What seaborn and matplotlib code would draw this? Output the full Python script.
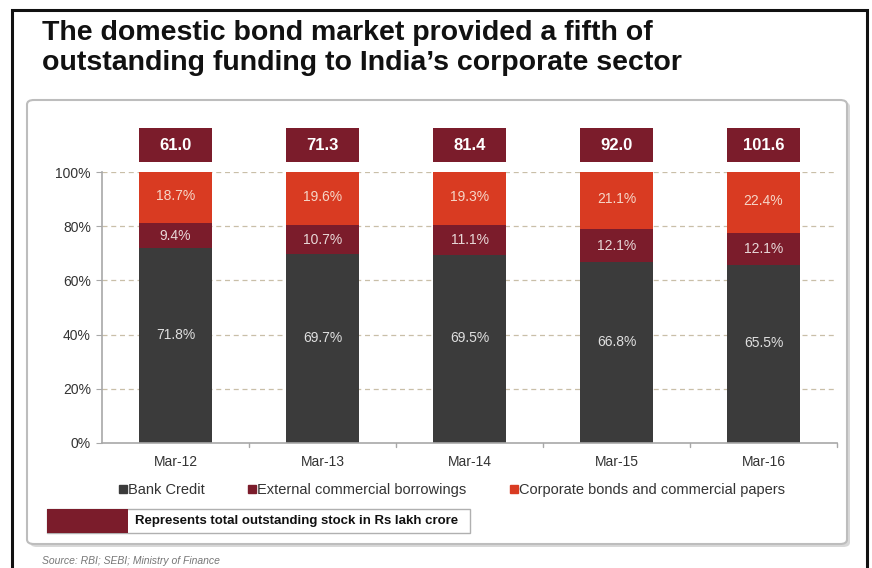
import matplotlib
matplotlib.use("Agg")
import matplotlib.pyplot as plt
import seaborn as sns
import numpy as np
from matplotlib.patches import Rectangle, FancyBboxPatch
from matplotlib.lines import Line2D

periods = ["Mar-12", "Mar-13", "Mar-14", "Mar-15", "Mar-16"]
bank_credit = [71.8, 69.7, 69.5, 66.8, 65.5]
ecb = [9.4, 10.7, 11.1, 12.1, 12.1]
corp_bonds = [18.7, 19.6, 19.3, 21.1, 22.4]
totals = [61.0, 71.3, 81.4, 92.0, 101.6]
y_ticks = [0, 20, 40, 60, 80, 100]

C_GREY = "#3b3b3b"
C_RED = "#7b1c2b"
C_ORANGE = "#d93b22"

sns.set_style("white")
plt.rcParams["font.family"] = ["Liberation Sans", "DejaVu Sans"]

W, H = 872, 568
fig = plt.figure(figsize=(W / 100, H / 100), dpi=100)

def fx(px):
    return px / W

def fy(py):
    return 1 - py / H

def add_patch(p, z):
    p.set_zorder(z)
    fig.patches.append(p)

# outer frame
add_patch(Rectangle((fx(12), fy(580)), fx(867) - fx(12), fy(10) - fy(580),
                    transform=fig.transFigure, fill=False, edgecolor="#111111", lw=2.2), -3)
# panel with shadow
add_patch(FancyBboxPatch((fx(30), fy(547)), fx(850) - fx(30), fy(102) - fy(547),
                         boxstyle="round,pad=0,rounding_size=0.008", transform=fig.transFigure,
                         facecolor="#d8d8d8", edgecolor="none"), -3)
add_patch(FancyBboxPatch((fx(27), fy(544)), fx(847) - fx(27), fy(100) - fy(544),
                         boxstyle="round,pad=0,rounding_size=0.008", transform=fig.transFigure,
                         facecolor="white", edgecolor="#bdbdbd", lw=1.5), -2)

fig.text(fx(42), fy(20), "The domestic bond market provided a fifth of\noutstanding funding to India\u2019s corporate sector",
         fontsize=20.5, fontweight="bold", color="#111111", va="top", ha="left", linespacing=1.18)

ax = fig.add_axes([fx(102), fy(443), fx(837) - fx(102), fy(172) - fy(443)])
ax.set_zorder(2)
ax.patch.set_alpha(0)

cum3 = [a + b + c for a, b, c in zip(bank_credit, ecb, corp_bonds)]
cum2 = [a + b for a, b in zip(bank_credit, ecb)]
bw = 0.49
sns.barplot(x=periods, y=cum3, color=C_ORANGE, width=bw, saturation=1, linewidth=0, ax=ax)
sns.barplot(x=periods, y=cum2, color=C_RED, width=bw, saturation=1, linewidth=0, ax=ax)
sns.barplot(x=periods, y=bank_credit, color=C_GREY, width=bw, saturation=1, linewidth=0, ax=ax)

ax.set_ylim(0, 100)
ax.set_xlim(-0.5, 4.5)
ax.set_yticks(y_ticks)
ax.set_yticklabels([f"{t}%" for t in y_ticks])
for t in y_ticks[1:]:
    ax.axhline(t, color="#c9bfa8", lw=0.9, ls=(0, (4, 3)), zorder=0)

for s in ["top", "right"]:
    ax.spines[s].set_visible(False)
for s in ["left", "bottom"]:
    ax.spines[s].set_color("#a8a8a8")
    ax.spines[s].set_linewidth(1.2)
ax.tick_params(axis="y", length=4, color="#a8a8a8", labelsize=10, labelcolor="#333333", pad=4, left=True)
ax.tick_params(axis="x", length=0, labelsize=10, labelcolor="#333333", pad=9)
for xb in [0.5, 1.5, 2.5, 3.5, 4.5]:
    ax.plot([xb, xb], [0, -1.3], color="#a8a8a8", lw=1, clip_on=False)
ax.set_xlabel("")
ax.set_ylabel("")

for i in range(len(periods)):
    ax.text(i, bank_credit[i] / 2 + 4, f"{bank_credit[i]}%", ha="center", va="center", color="#e0e0e0", fontsize=10)
    ax.text(i, bank_credit[i] + ecb[i] / 2, f"{ecb[i]}%", ha="center", va="center", color="#e8d8d8", fontsize=10)
    ax.text(i, cum2[i] + corp_bonds[i] / 2 + 0.5, f"{corp_bonds[i]}%", ha="center", va="center", color="#f6d6c8", fontsize=10)
    ax.bar(i, 12.6, bottom=103.6, width=bw, color=C_RED, linewidth=0, clip_on=False)
    ax.text(i, 109.9, f"{totals[i]:.1f}", ha="center", va="center", color="white", fontsize=12,
            fontweight="bold", clip_on=False)

# legend
handles = [Line2D([], [], marker="s", ls="none", color=c, markersize=5.5)
           for c in [C_GREY, C_RED, C_ORANGE]]
fig.legend(handles, ["Bank Credit", "External commercial borrowings", "Corporate bonds and commercial papers"],
           loc="center", bbox_to_anchor=(fx(452), fy(490)), ncol=3, frameon=False, fontsize=10.5,
           handlelength=0.5, handletextpad=0.1, columnspacing=3.0, labelcolor="#333333")

# Rs box
add_patch(Rectangle((fx(47), fy(533)), fx(470) - fx(47), fy(509) - fy(533),
                    transform=fig.transFigure, facecolor="white", edgecolor="#b0b0b0", lw=1), 1)
add_patch(Rectangle((fx(47), fy(533)), fx(128) - fx(47), fy(509) - fy(533),
                    transform=fig.transFigure, facecolor=C_RED, edgecolor="none"), 1)
fig.text(fx(135), fy(521), "Represents total outstanding stock in Rs lakh crore", fontsize=9.5, fontweight="bold",
         color="#111111", va="center", ha="left")

fig.text(fx(42), fy(561), "Source: RBI; SEBI; Ministry of Finance", fontsize=7.5, style="italic",
         color="#777777", va="center", ha="left")

fig.savefig("out.png", dpi=100)
